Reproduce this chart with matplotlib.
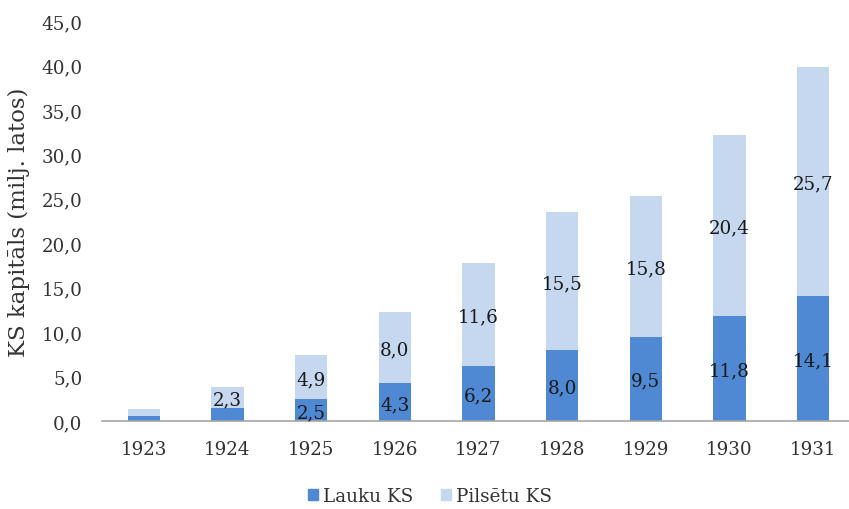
import matplotlib
matplotlib.use("Agg")
import matplotlib.pyplot as plt
from matplotlib.patches import Patch

years = ["1923", "1924", "1925", "1926", "1927", "1928", "1929", "1930", "1931"]
lauku = [0.6, 1.5, 2.5, 4.3, 6.2, 8.0, 9.5, 11.8, 14.1]
pilsetu = [0.8, 2.3, 4.9, 8.0, 11.6, 15.5, 15.8, 20.4, 25.7]
lauku_labels = [None, None, "2,5", "4,3", "6,2", "8,0", "9,5", "11,8", "14,1"]
pilsetu_labels = [None, "2,3", "4,9", "8,0", "11,6", "15,5", "15,8", "20,4", "25,7"]
yticks = [0, 5, 10, 15, 20, 25, 30, 35, 40, 45]

c_lauku = "#5089D3"
c_pils = "#C6D8F0"
font = "DejaVu Serif"
plt.rcParams["font.family"] = [font]
fs = 13.2

W, H = 849, 510
fig = plt.figure(figsize=(W / 100, H / 100), dpi=100)
left, right, top, bottom = 102, 855, 22, 422
ax = fig.add_axes([left / W, 1 - bottom / H, (right - left) / W, (bottom - top) / H])

x = list(range(len(years)))
bw = 0.385
ax.bar(x, lauku, width=bw, color=c_lauku, label="Lauku KS")
ax.bar(x, pilsetu, width=bw, bottom=lauku, color=c_pils, label="Pilsētu KS")

for i in x:
    if lauku_labels[i]:
        ax.text(i, lauku[i] / 2, lauku_labels[i], ha="center", va="center_baseline",
                fontsize=fs, color="#1a1a1a")
    if pilsetu_labels[i]:
        ax.text(i, lauku[i] + pilsetu[i] / 2, pilsetu_labels[i], ha="center",
                va="center_baseline", fontsize=fs, color="#1a1a1a")

ax.set_xlim(-0.5, len(years) - 0.5)
ax.set_ylim(0, 45)
ax.set_yticks(yticks)
ax.set_yticklabels([f"{v:.1f}".replace(".", ",") for v in yticks])
ax.set_xticks(x)
ax.set_xticklabels(years)
ax.tick_params(axis="both", length=0, labelsize=fs, colors="#333333")
ax.tick_params(axis="y", pad=14)
ax.tick_params(axis="x", pad=14)
for s in ["top", "right", "left"]:
    ax.spines[s].set_visible(False)
ax.spines["bottom"].set_color("#A6A6A6")
ax.spines["bottom"].set_linewidth(1.2)
ax.set_ylabel("KS kapitāls (milj. latos)", fontsize=16.5, color="#333333", labelpad=8)

handles = [Patch(color=c_lauku, label="Lauku KS"), Patch(color=c_pils, label="Pilsētu KS")]
fig.legend(handles=handles, loc="center", bbox_to_anchor=(430 / W, 1 - 497 / H),
           ncol=2, frameon=False, fontsize=fs, handlelength=0.55, handleheight=0.55,
           handletextpad=0.3, columnspacing=1.5, labelcolor="#333333")

fig.savefig("out.png", dpi=100)
